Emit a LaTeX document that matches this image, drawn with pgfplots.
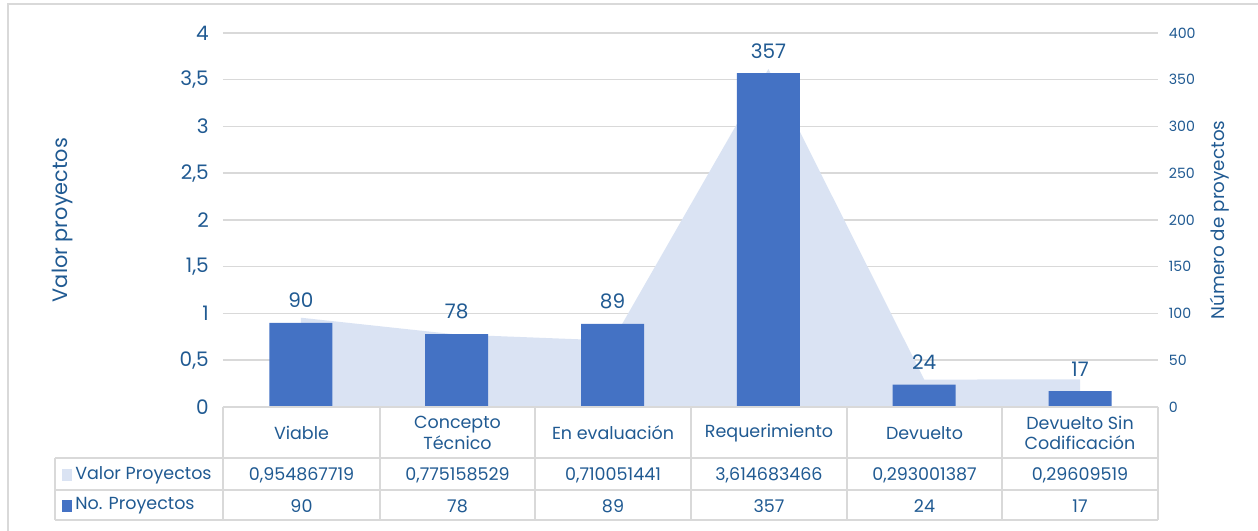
\documentclass[border=0pt]{standalone}
\usepackage{pgfplots}
\pgfplotsset{compat=1.18}
\usepackage{fontspec}
\setmainfont{Poppins}
\definecolor{txt}{HTML}{205A92}
\definecolor{barc}{HTML}{4472C4}
\definecolor{areac}{HTML}{DAE3F3}
\definecolor{gridc}{HTML}{D9D9D9}
\begin{document}
\begin{tikzpicture}[x=0.6pt,y=0.6pt]
\useasboundingbox (0,0) rectangle (1258,531);
\draw[gridc, line width=1.2pt] (8,-20) -- (8,527) -- (1280,527);
% left axis with area
\begin{axis}[at={(133.8pt,74.4pt)}, anchor=south west, scale only axis,
  width=561pt, height=224.4pt, xmin=-0.5, xmax=5.5, ymin=0, ymax=4,
  axis x line=none, axis y line*=left, y axis line style={draw=none},
  xtick=\empty, ytick={0,0.5,...,4},
  ymajorgrids, grid style={gridc, line width=0.9pt},
  yticklabel style={font=\fontsize{12}{12}\selectfont, text=txt, xshift=-5pt},
  /pgf/number format/use comma, /pgf/number format/assume math mode=true,
  major tick length=0pt,
  ylabel={Valor proyectos},
  every axis y label/.style={at={(axis description cs:-0.172,0.5)}, rotate=90, anchor=center, font=\fontsize{12.5}{12.5}\selectfont, text=txt},
  clip=false]
\addplot[fill=areac, draw=none] coordinates {(0,0.954867719) (1,0.775158529) (2,0.710051441) (3,3.614683466) (4,0.293001387) (5,0.29609519)} \closedcycle;
\end{axis}
% right axis with bars
\begin{axis}[at={(133.8pt,74.4pt)}, anchor=south west, scale only axis,
  width=561pt, height=224.4pt, xmin=-0.5, xmax=5.5, ymin=0, ymax=400,
  axis x line=none, axis y line*=right, y axis line style={draw=none},
  ytick={0,50,...,400}, major tick length=0pt,
  yticklabel style={font=\fontsize{8.5}{8.5}\selectfont, text=txt, xshift=3pt},
  /pgf/number format/assume math mode=true,
  xtick={0,...,5},
  ylabel={Número de proyectos},
  every axis y label/.style={at={(axis description cs:1.066,0.5)}, rotate=90, anchor=center, font=\fontsize{11}{11}\selectfont, text=txt},
  ybar, bar width=37.8pt,
  nodes near coords, every node near coord/.append style={font=\fontsize{12}{12}\selectfont, text=txt, /pgf/number format/assume math mode=true, yshift=5.5pt},
  clip=false]
\addplot[fill=barc, draw=none] coordinates {(0,90) (1,78) (2,89) (3,357) (4,24) (5,17)};
\end{axis}
% data table
\begin{scope}[gridc, line width=1pt]
\draw (223,124) -- (1158,124);
\draw (55,73) -- (1158,73);
\draw (55,41) -- (1158,41);
\draw (55,11) -- (1158,11);
\draw (55,73) -- (55,11);
\foreach \x in {223,380,535,691,847,1002,1158} {\draw (\x,124) -- (\x,11);}
\end{scope}
\begin{scope}[every node/.style={text=txt, font=\fontsize{10.5}{12.5}\selectfont, align=center, inner sep=0pt}]
\node at (301.5,98) {Viable};
\node at (457.5,98) {Concepto\\Técnico};
\node at (613,98) {En evaluación};
\node at (769,98) {Requerimiento};
\node at (924.5,98) {Devuelto};
\node at (1080,98) {Devuelto Sin\\Codificación};
\node at (301.5,56) {0,954867719};
\node at (457.5,56) {0,775158529};
\node at (613,56) {0,710051441};
\node at (769,56) {3,614683466};
\node at (924.5,56) {0,293001387};
\node at (1080,56) {0,29609519};
\node at (301.5,25) {90};
\node at (457.5,25) {78};
\node at (613,25) {89};
\node at (769,25) {357};
\node at (924.5,25) {24};
\node at (1080,25) {17};
\node[anchor=west] at (75,56) {Valor Proyectos};
\node[anchor=west] at (75,25) {No. Proyectos};
\end{scope}
\fill[areac] (62,50) rectangle (72,62);
\fill[barc] (62,19) rectangle (72,31);
\end{tikzpicture}
\end{document}
